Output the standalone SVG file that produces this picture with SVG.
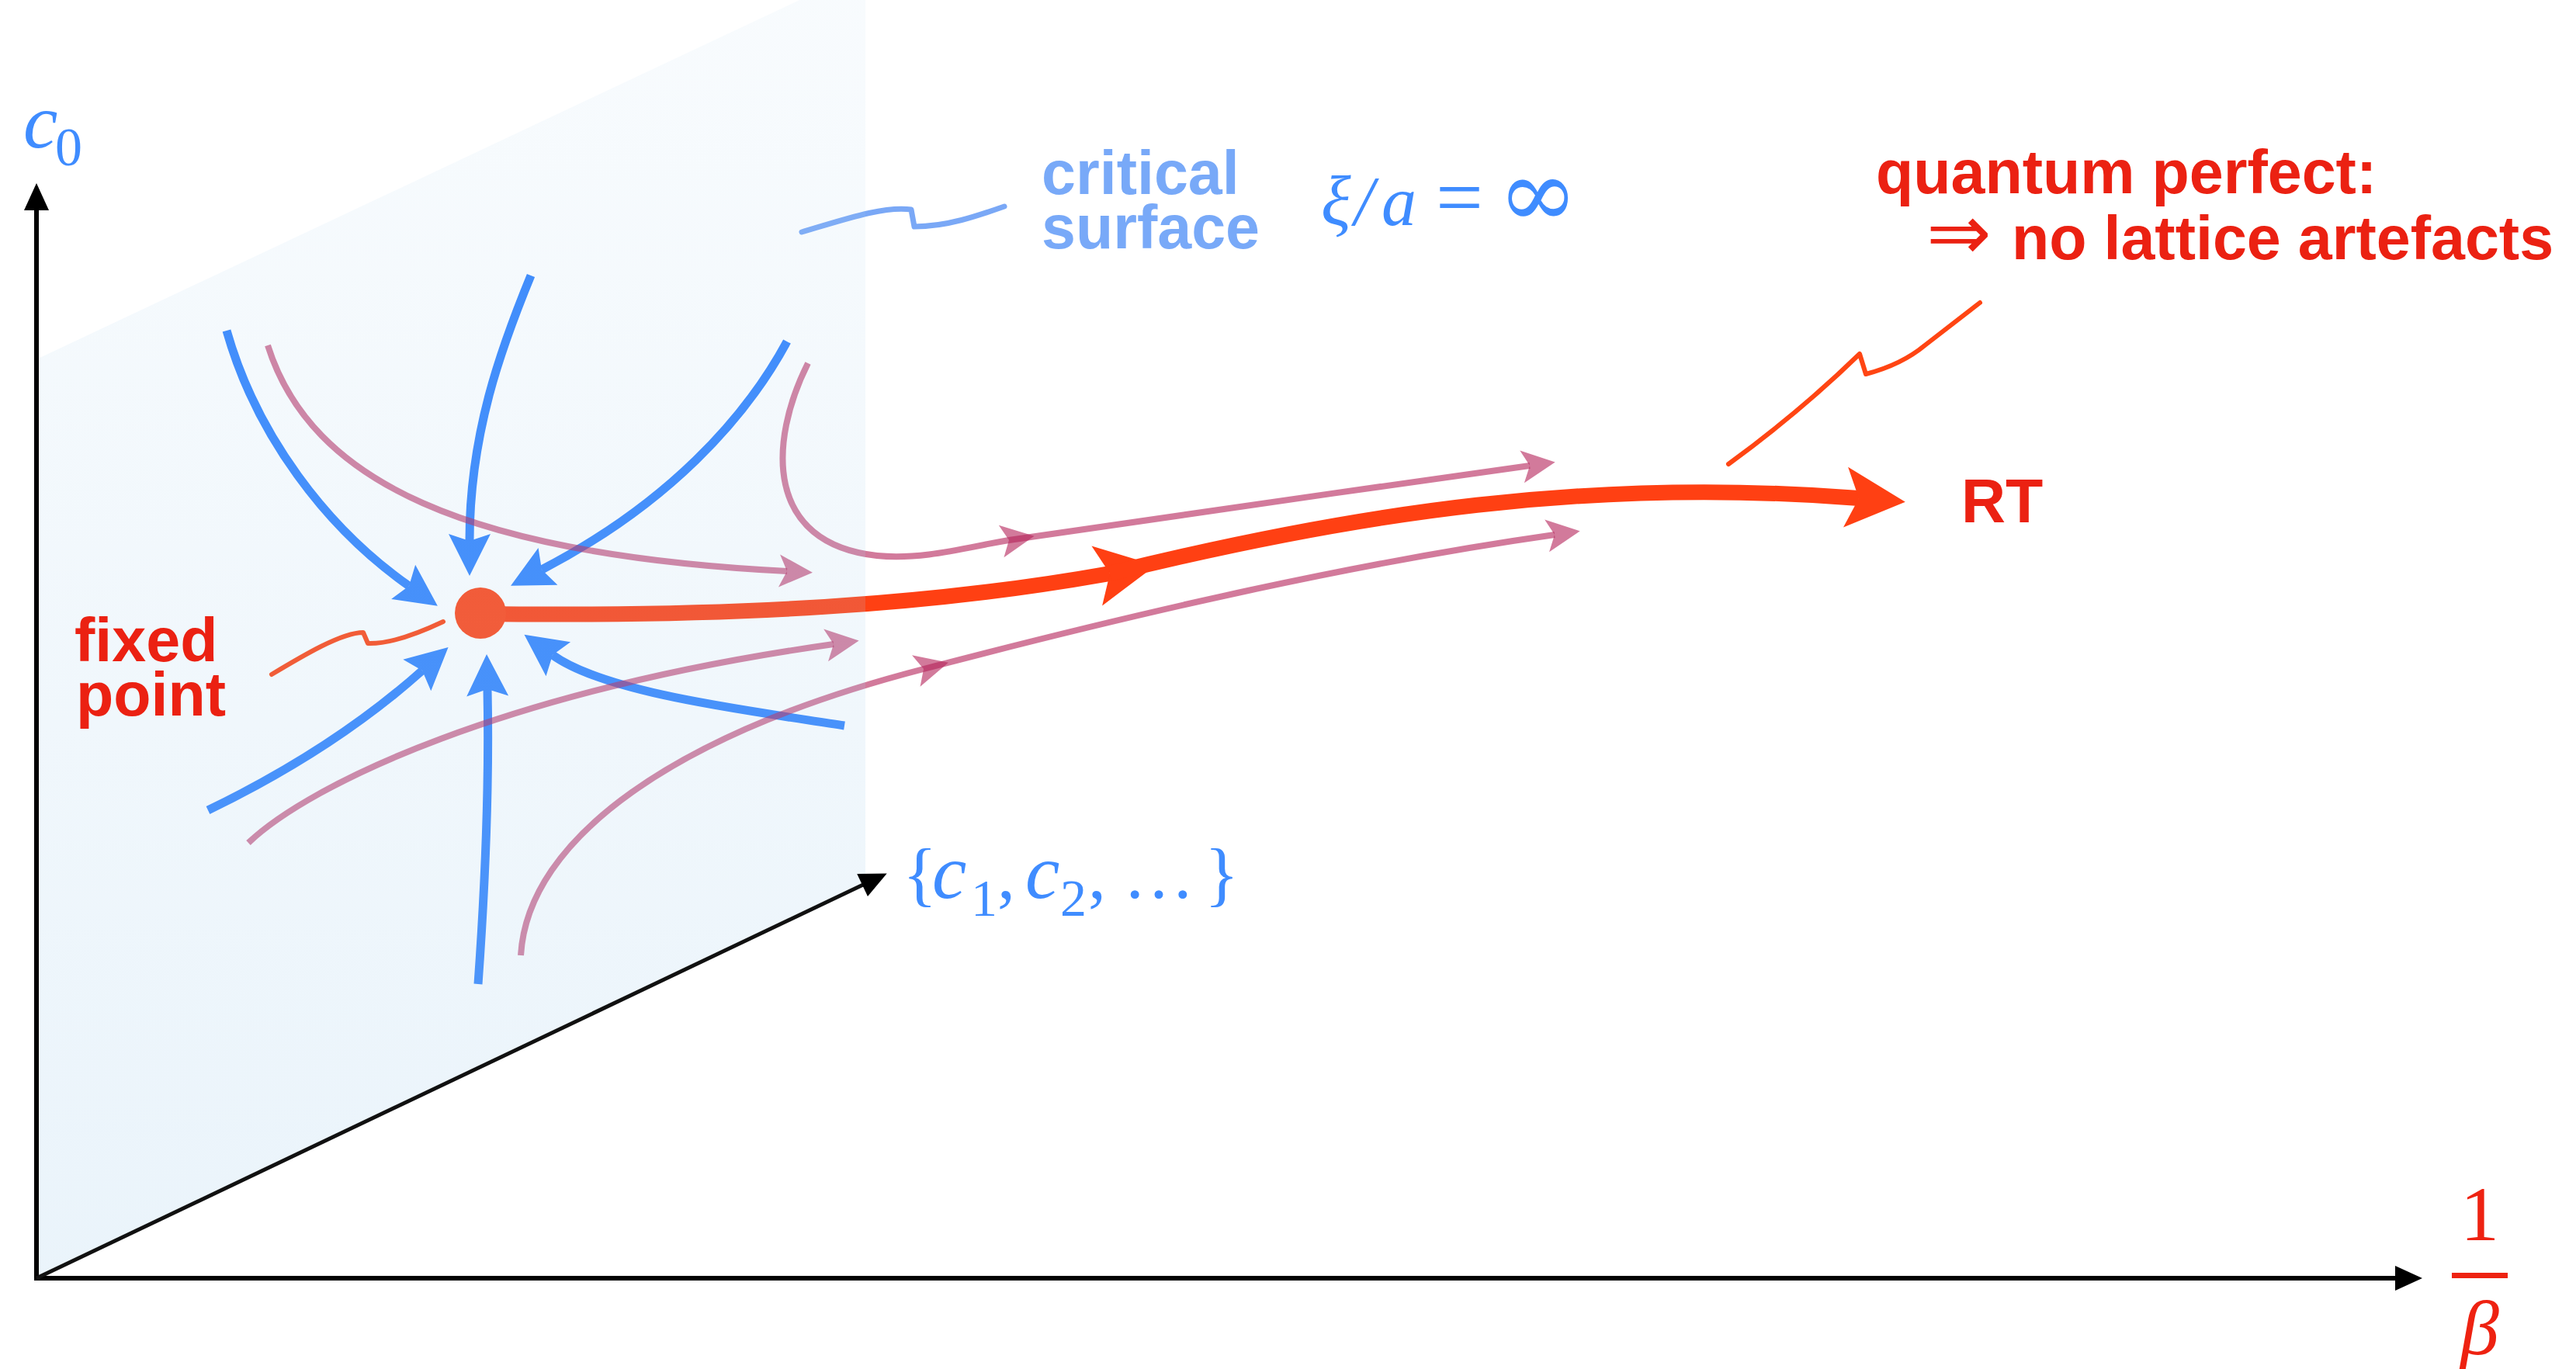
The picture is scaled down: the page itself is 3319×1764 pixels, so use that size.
<svg xmlns="http://www.w3.org/2000/svg" width="3319" height="1764" viewBox="0 0 3319 1764">
<style>
.axis{stroke:#000;stroke-width:6;fill:none}
.blue{stroke:#3384FD;stroke-width:11;fill:none;marker-end:url(#ab)}
.pink{stroke:rgb(180,33,88);stroke-opacity:0.6;stroke-width:8;fill:none}
.pinkA{marker-end:url(#ap)}
.red{stroke:#FF4013;stroke-width:20;fill:none;marker-end:url(#ar)}
.lead{stroke:#FF4513;stroke-width:6;fill:none;stroke-linecap:round;stroke-linejoin:round}
.sans{font-family:"Liberation Sans",Arial,Helvetica,sans-serif;font-weight:bold;font-size:79px}
.rtxt{fill:#EB2112}
.math{font-family:"Liberation Serif","Times New Roman",serif;fill:#3F8CFF}
.it{font-style:italic}
</style>
<defs>
<marker id="ab" markerUnits="userSpaceOnUse" orient="auto" refX="0" refY="0" markerWidth="10" markerHeight="10" style="overflow:visible"><path d="M45,0 L-9,-27 L0,0 L-9,27 Z" fill="#3384FD"/></marker>
<marker id="ap" markerUnits="userSpaceOnUse" orient="auto" refX="0" refY="0" markerWidth="10" markerHeight="10" style="overflow:visible"><path d="M33,0 L-10,-21 L0,0 L-10,21 Z" fill="rgb(180,33,88)" fill-opacity="0.6"/></marker>
<marker id="ar" markerUnits="userSpaceOnUse" orient="auto" refX="0" refY="0" markerWidth="10" markerHeight="10" style="overflow:visible"><path d="M60,0 L-17,-39 L0,0 L-17,39 Z" fill="#FF4013"/></marker>
<marker id="ax" markerUnits="userSpaceOnUse" orient="auto" refX="0" refY="0" markerWidth="10" markerHeight="10" style="overflow:visible"><path d="M-1,-16 L34,0 L-1,16 Z" fill="#000"/></marker>
<linearGradient id="shade" gradientUnits="userSpaceOnUse" x1="0" y1="-40" x2="0" y2="1647">
<stop offset="0" stop-color="rgb(171,210,238)" stop-opacity="0.08"/>
<stop offset="1" stop-color="rgb(171,210,238)" stop-opacity="0.25"/>
</linearGradient>
</defs>
<rect width="3319" height="1764" fill="#fff"/>

<g id="connectors">
<path class="blue" d="M292,426 C330,560 420,680 527,755"/>
<path class="blue" d="M684,355 C645,450 605,560 605,697"/>
<path class="blue" d="M1014,440 C960,540 860,650 698,734"/>
<path class="blue" d="M268,1044 C380,990 470,930 544,864"/>
<path class="blue" d="M616,1268 C628,1100 630,980 628,888"/>
<path class="blue" d="M1088,935 C960,915 780,893 712,844"/>
<path class="pink pinkA" d="M345,445 C400,620 600,715 1014,736"/>
<path class="pink pinkA" d="M1041,468 C990,570 985,700 1130,716 C1190,722 1250,704 1300,696"/>
<path class="pink pinkA" d="M1300,696 C1500,668 1750,630 1971,600"/>
<path class="pink pinkA" d="M320,1086 C400,1010 650,890 1074,830"/>
<path class="pink pinkA" d="M671,1231 C680,1080 870,945 1190,862"/>
<path class="pink pinkA" d="M1190,862 C1480,786 1750,725 2003,689"/>
<path class="red" d="M619,791 C950,795 1200,780 1430,739"/>
<path class="red" d="M1430,739 C1750,660 2050,615 2395,642"/>
<path class="lead" d="M350,869 C390,845 440,815 468,815 L474,829 C500,830 535,818 571,801"/>
<path class="lead" d="M2227,598 Q2320,530 2396,456 L2404,482 Q2450,470 2480,445 L2551,390"/>
<path d="M1033,299 C1090,282 1140,265 1174,270 L1178,292 C1220,292 1260,278 1294,266" fill="none" stroke="#7AA8F6" stroke-width="7" stroke-linecap="round" stroke-linejoin="round"/>
</g>

<g id="fixed-point-dot">
<circle cx="619" cy="790" r="33" fill="#FF4517"/>
</g>

<g id="critical-surface">
<path d="M47,463 L1115,-40 L1115,1141 L47,1647 Z" fill="url(#shade)"/>
<text class="sans" fill="#78A9F8"><tspan x="1342" y="250">critical</tspan><tspan x="1342" y="320">surface</tspan></text>
<text class="math" y="290" font-size="90"><tspan class="it" x="1702">ξ</tspan><tspan class="it" x="1745">/</tspan><tspan class="it" x="1780">a</tspan><tspan x="1850" font-size="108">=</tspan><tspan x="1930" y="292" font-size="124" font-family="DejaVu Serif, serif">∞</tspan></text>
</g>

<g id="fixed-point-label">
<text class="sans rtxt"><tspan x="96" y="852">fixed</tspan><tspan x="98" y="922">point</tspan></text>
</g>

<g id="axes">
<path class="axis" d="M47,1650 L47,270" style="marker-end:url(#ax)"/>
<path class="axis" d="M44,1647 L3087,1647" style="marker-end:url(#ax)"/>
<path class="axis" d="M47,1647 L1112,1140" style="marker-end:url(#ax);stroke:#111;stroke-width:5"/>
</g>

<g id="label-c0">
<text class="math" y="190"><tspan class="it" x="30" font-size="100">c</tspan><tspan x="71" y="213" font-size="70">0</tspan></text>
</g>

<g id="label-couplings">
<text class="math" y="1157" font-size="92"><tspan x="1163">{</tspan><tspan class="it" x="1201" font-size="100">c</tspan><tspan x="1251" y="1180" font-size="68">1</tspan><tspan x="1285" y="1157">,</tspan><tspan class="it" x="1321" font-size="100">c</tspan><tspan x="1366" y="1180" font-size="68">2</tspan><tspan x="1402" y="1157">,</tspan><tspan x="1447">…</tspan><tspan x="1552">}</tspan></text>
</g>

<g id="label-beta">
<text x="3195" y="1598" text-anchor="middle" font-family="Liberation Serif, serif" font-size="100" fill="#EE2211">1</text>
<rect x="3159" y="1640" width="72" height="7" fill="#EE2211"/>
<text x="3195" y="1745" text-anchor="middle" font-family="Liberation Serif, serif" font-style="italic" font-size="100" fill="#EE2211">β</text>
</g>

<g id="RT">
<text class="sans rtxt" x="2527" y="673" font-size="100">RT</text>
</g>

<g id="quantum-perfect">
<text class="sans rtxt"><tspan x="2417" y="249">quantum perfect:</tspan><tspan x="2482" y="334" font-family="DejaVu Sans, sans-serif" font-weight="normal" font-size="100">⇒</tspan><tspan x="2592" y="334">no lattice artefacts</tspan></text>
</g>
</svg>
